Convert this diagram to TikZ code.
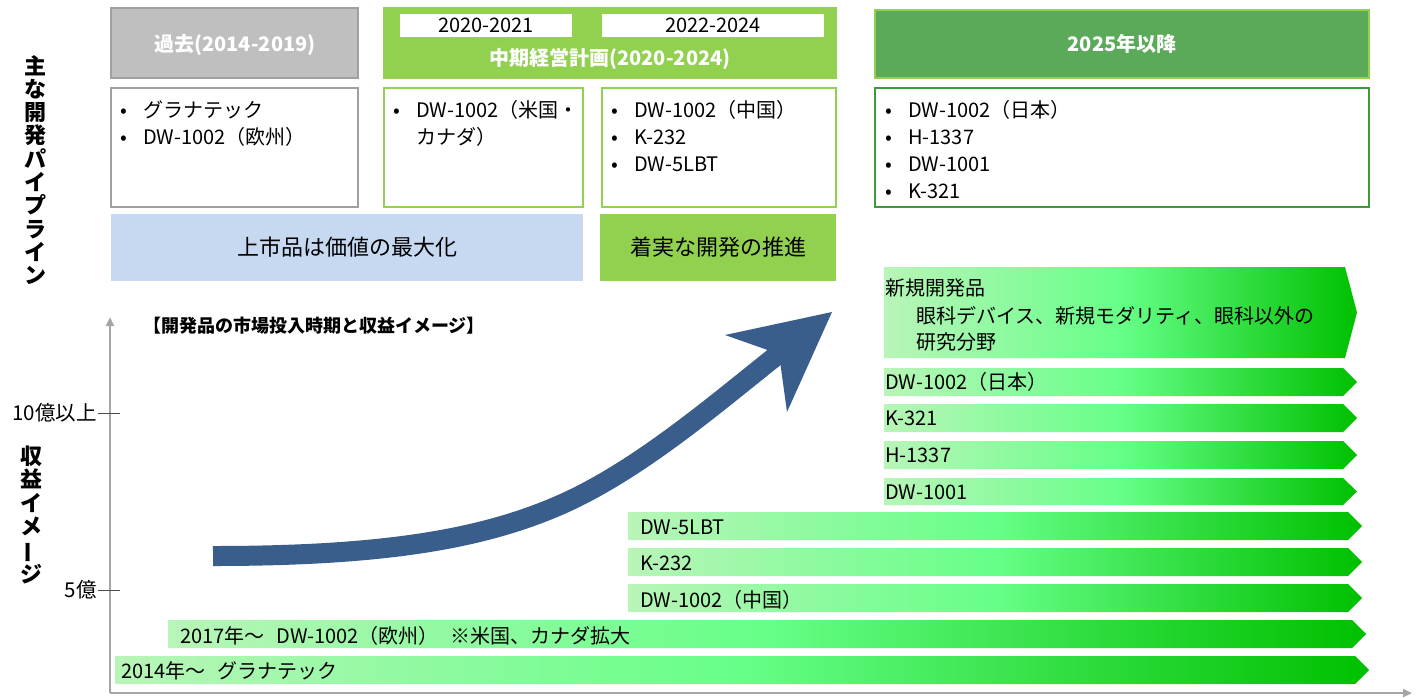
\documentclass[tikz,border=0pt]{standalone}
\usepackage{fontspec}
\setmainfont{Noto Sans CJK JP}
\usetikzlibrary{arrows.meta}
\definecolor{hdrgray}{HTML}{BFBFBF}
\definecolor{bordgray}{HTML}{A0A0A0}
\definecolor{lgreen}{HTML}{92D050}
\definecolor{dgfill}{HTML}{5BAA5A}
\definecolor{dgbord}{HTML}{3C9A3C}
\definecolor{lblue}{HTML}{C6D9F1}
\definecolor{arrowblue}{HTML}{3A5E8C}
\definecolor{axisgray}{HTML}{A6A6A6}
\definecolor{barL}{HTML}{B8F5B8}
\definecolor{barM}{HTML}{66FF88}
\definecolor{barR}{HTML}{00C000}
\newcommand{\fsz}[1]{\fontsize{#1}{#1}\selectfont}
\newcommand{\gbar}[5]{\shade[barshade] (#1,#2) -- (#3,#2) -- (#4,{(#2+#5)/2}) -- (#3,#5) -- (#1,#5) -- cycle;}
\newcommand{\bul}{\makebox[23pt][l]{•}}
\begin{document}
\begin{tikzpicture}[x=1pt,y=-1pt,
  box/.style={rectangle, anchor=north west, inner sep=0pt, outer sep=0pt},
  txt/.style={inner sep=0pt, font=\fsz{20}, anchor=base west},
  hdr/.style={inner sep=0pt, font=\fsz{20}\bfseries, text=white},
  barshade/.style={left color=barL, right color=barR, middle color=barM},
  axis/.style={axisgray, line width=2.5pt, -{Triangle[length=9pt,width=8pt]}}]
\useasboundingbox (0,0) rectangle (1420,697);
\fill[white] (0,0) rectangle (1420,697);

% headers
\node[box, fill=hdrgray, draw=bordgray, line width=2pt, minimum width=247pt, minimum height=70pt] (past) at (111,8) {};
\node[hdr] (pastt) at (235,45) {過去(2014-2019)};
\node[box, fill=lgreen, draw=lgreen, line width=2pt, minimum width=452pt, minimum height=70pt] (mid) at (384,8) {};
\node[box, fill=white, minimum width=172pt, minimum height=23pt] (y1) at (400,14) {};
\node[box, fill=white, minimum width=222pt, minimum height=23pt] (y2) at (602,14) {};
\node[inner sep=0pt, font=\fsz{20}] (y1t) at (y1.center) {2020-2021};
\node[inner sep=0pt, font=\fsz{20}] (y2t) at (y2.center) {2022-2024};
\node[hdr] (midt) at (610,59) {中期経営計画(2020-2024)};
\node[box, fill=dgfill, draw=lgreen, line width=2pt, minimum width=494pt, minimum height=68pt] (fut) at (875,10) {};
\node[hdr] (futt) at (fut.center) {2025年以降};

% content boxes
\node[box, draw=bordgray, line width=2pt, minimum width=247pt, minimum height=119pt] (c1) at (111,88) {};
\node[box, draw=lgreen, line width=2.5pt, minimum width=199pt, minimum height=119pt] (c2) at (384,88) {};
\node[box, draw=lgreen, line width=2.5pt, minimum width=234pt, minimum height=119pt] (c3) at (602,88) {};
\node[box, draw=dgbord, line width=2.5pt, minimum width=494pt, minimum height=119pt] (c4) at (875,88) {};

\node[txt] (c1a) at (120,117) {\bul グラナテック};
\node[txt] (c1b) at (120,144) {\bul DW-1002（欧州）};
\node[txt] (c2a) at (393,117) {\bul DW-1002（米国・};
\node[txt] (c2b) at (416,144) {カナダ）};
\node[txt] (c3a) at (611,117) {\bul DW-1002（中国）};
\node[txt] (c3b) at (611,144) {\bul K-232};
\node[txt] (c3c) at (611,171) {\bul DW-5LBT};
\node[txt] (c4a) at (885,117) {\bul DW-1002（日本）};
\node[txt] (c4b) at (885,144) {\bul H-1337};
\node[txt] (c4c) at (885,171) {\bul DW-1001};
\node[txt] (c4d) at (885,198) {\bul K-321};

% strategy boxes
\node[box, fill=lblue, minimum width=472pt, minimum height=67pt] (s1) at (111,214) {};
\node[inner sep=0pt, font=\fsz{22}] (s1t) at (s1.center) {上市品は価値の最大化};
\node[box, fill=lgreen, minimum width=236pt, minimum height=67pt] (s2) at (600,214) {};
\node[inner sep=0pt, font=\fsz{22}] (s2t) at (s2.center) {着実な開発の推進};

% vertical labels
\node[inner sep=0pt, align=center, font=\fontsize{22}{23.3}\selectfont\bfseries] (vl1) at (35,170) {主\\な\\開\\発\\パ\\イ\\プ\\ラ\\イ\\ン};
\node[inner sep=0pt, align=center, font=\fontsize{22}{23.3}\selectfont\bfseries] (vl2) at (31,515) {収\\益\\イ\\メ\\\rotatebox[origin=c]{90}{ー}\\ジ};

% axes
\coordinate (o) at (110,693);
\coordinate (ytop) at (110,317);
\coordinate (xend) at (1412,693);
\draw[axis] (o) -- (ytop);
\draw[axis] (o) -- (xend);
\coordinate (t10a) at (98,413); \coordinate (t10b) at (120,413);
\coordinate (t5a) at (98,590); \coordinate (t5b) at (120,590);
\draw[black!70, line width=1pt] (t10a) -- (t10b);
\draw[black!70, line width=1pt] (t5a) -- (t5b);
\node[inner sep=1pt, anchor=east, font=\fsz{20.5}] (l10) at (t10a) {10億以上};
\node[inner sep=1pt, anchor=east, font=\fsz{20.5}] (l5) at (t5a) {5億};

\node[inner sep=0pt, anchor=west, font=\fsz{18}\bfseries] (cap) at (143,326) {【開発品の市場投入時期と収益イメージ】};

% bars
\gbar{884}{267}{1345}{1357}{358}
\gbar{884}{368}{1343}{1357}{396}
\gbar{884}{404}{1343}{1357}{432}
\gbar{884}{441}{1343}{1357}{469}
\gbar{884}{478}{1343}{1357}{505}
\gbar{628}{512}{1348}{1362}{540}
\gbar{628}{548}{1348}{1362}{576}
\gbar{628}{584}{1348}{1362}{612}
\gbar{168}{620}{1352}{1366}{648}
\gbar{115}{656}{1355}{1369}{684}

\node[txt] (n1) at (885,295) {新規開発品};
\node[txt] (n2) at (916,323) {眼科デバイス、新規モダリティ、眼科以外の};
\node[txt] (n3) at (916,349) {研究分野};
\node[txt] (b1) at (885,389) {DW-1002（日本）};
\node[txt] (b2) at (885,425) {K-321};
\node[txt] (b3) at (885,462) {H-1337};
\node[txt] (b4) at (885,499) {DW-1001};
\node[txt] (b5) at (640,534) {DW-5LBT};
\node[txt] (b6) at (640,570) {K-232};
\node[txt] (b7) at (640,607) {DW-1002（中国）};
\node[txt] (b8) at (180,643) {2017年～\hspace{12pt}DW-1002（欧州）\hspace{12pt}※米国、カナダ拡大};
\node[txt] (b9) at (121,678) {2014年～\hspace{12pt}グラナテック};

% big arrow
\coordinate (a0) at (213,556);
\coordinate (am) at (560,505);
\coordinate (a1) at (781,352);
\draw[arrowblue, line width=20pt] (a0) .. controls (380,556) and (480,540) .. (am) .. controls (640,470) and (720,400) .. (a1);
\fill[arrowblue] (725,335) -- (832,312) -- (787,412) -- (779,354) -- cycle;
\end{tikzpicture}
\end{document}
